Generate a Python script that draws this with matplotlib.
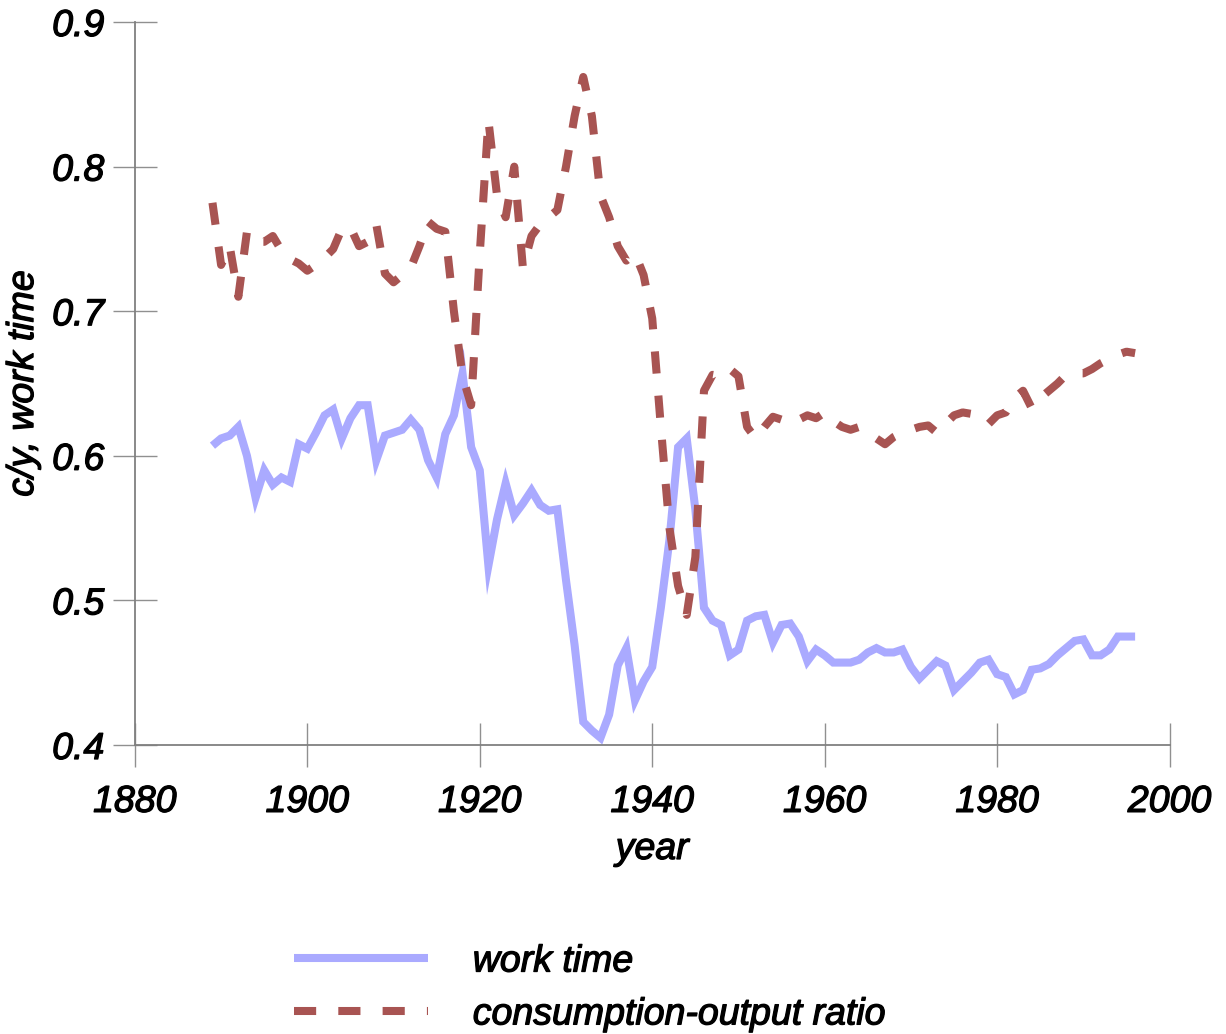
import matplotlib
matplotlib.use("Agg")
import matplotlib.pyplot as plt
import matplotlib.patheffects as pe
from matplotlib.ticker import FormatStrFormatter

years = list(range(1889, 1997))

work_time = [
    0.607, 0.612, 0.614, 0.620, 0.600, 0.571, 0.590, 0.580, 0.585, 0.582,
    0.608, 0.605, 0.616, 0.628, 0.632, 0.612, 0.626, 0.635, 0.635, 0.597,
    0.614, 0.616, 0.618, 0.625, 0.618, 0.597, 0.585, 0.615, 0.628, 0.657,
    0.606, 0.590, 0.524, 0.556, 0.581, 0.559, 0.567, 0.576, 0.566, 0.562,
    0.563, 0.514, 0.469, 0.416, 0.410, 0.405, 0.421, 0.455, 0.467, 0.431,
    0.444, 0.454, 0.495, 0.542, 0.606, 0.612, 0.563, 0.495, 0.486, 0.483,
    0.462, 0.466, 0.486, 0.489, 0.490, 0.471, 0.483, 0.484, 0.475, 0.458,
    0.466, 0.462, 0.457, 0.457, 0.457, 0.459, 0.464, 0.467, 0.464, 0.464,
    0.466, 0.454, 0.446, 0.452, 0.458, 0.455, 0.438, 0.444, 0.450, 0.457,
    0.459, 0.449, 0.447, 0.435, 0.438, 0.452, 0.453, 0.456, 0.462, 0.467,
    0.472, 0.473, 0.462, 0.462, 0.466, 0.475, 0.475, 0.475,
]

cons_output = [
    0.775, 0.732, 0.745, 0.710, 0.755, 0.748, 0.748, 0.752, 0.742, 0.736,
    0.733, 0.728, 0.732, 0.737, 0.743, 0.757, 0.758, 0.745, 0.748, 0.760,
    0.726, 0.720, 0.725, 0.730, 0.745, 0.762, 0.757, 0.755, 0.700, 0.655,
    0.635, 0.740, 0.832, 0.780, 0.765, 0.800, 0.730, 0.752, 0.760, 0.765,
    0.770, 0.800, 0.835, 0.862, 0.835, 0.780, 0.765, 0.745, 0.735, 0.740,
    0.725, 0.695, 0.620, 0.550, 0.510, 0.490, 0.530, 0.645, 0.656, 0.655,
    0.660, 0.655, 0.620, 0.612, 0.620, 0.627, 0.625, 0.622, 0.625, 0.628,
    0.626, 0.630, 0.624, 0.620, 0.618, 0.620, 0.616, 0.612, 0.608, 0.613,
    0.616, 0.618, 0.620, 0.621, 0.616, 0.622, 0.628, 0.630, 0.629, 0.628,
    0.622, 0.628, 0.630, 0.640, 0.645, 0.633, 0.640, 0.645, 0.650, 0.656,
    0.657, 0.657, 0.660, 0.664, 0.667, 0.670, 0.672, 0.671,
]

labels = ["work time", "consumption-output ratio"]
x_ticks = [1880, 1900, 1920, 1940, 1960, 1980, 2000]
y_ticks = [0.4, 0.5, 0.6, 0.7, 0.8, 0.9]

plt.rcParams["font.family"] = ["Liberation Sans", "DejaVu Sans"]
plt.rcParams["font.style"] = "italic"
bold = [pe.withStroke(linewidth=0.9, foreground="black")]
fs = 27

fig = plt.figure(figsize=(12.26, 10.34), dpi=100)
ax = fig.add_axes([0.110, 0.2795, 0.844, 0.6992])

ax.plot(years, work_time, color="#aaaaff", lw=5.8, label=labels[0],
        solid_capstyle="butt", solid_joinstyle="miter")
ax.plot(years, cons_output, color="#a85452", lw=5.8, label=labels[1],
        linestyle=(0, (2.75, 2.75)), dash_capstyle="butt")

ax.set_xlim(1880, 2000)
ax.set_ylim(0.4, 0.9)
ax.set_xticks(x_ticks)
ax.set_yticks(y_ticks)
ax.yaxis.set_major_formatter(FormatStrFormatter("%.1f"))

for s in ["top", "right"]:
    ax.spines[s].set_visible(False)
for s in ["left", "bottom"]:
    ax.spines[s].set_color("#808080")
    ax.spines[s].set_linewidth(1.3)

ax.tick_params(direction="inout", length=32, width=1.0, color="#909090",
               labelsize=fs)
ax.tick_params(axis="x", pad=12)
ax.tick_params(axis="y", pad=6)
for t in ax.get_xticklabels() + ax.get_yticklabels():
    t.set_path_effects(bold)

ax.set_xlabel("year", fontsize=fs, labelpad=8, path_effects=bold)
ax.set_ylabel("c/y, work time", fontsize=fs, labelpad=8, path_effects=bold)

leg = fig.legend(loc="upper left", bbox_to_anchor=(0.2275, 0.102), frameon=False,
                 fontsize=fs, handlelength=3.57, handletextpad=1.2,
                 labelspacing=0.45, borderaxespad=0)
for t in leg.get_texts():
    t.set_path_effects(bold)

fig.savefig("out.png", dpi=100)
